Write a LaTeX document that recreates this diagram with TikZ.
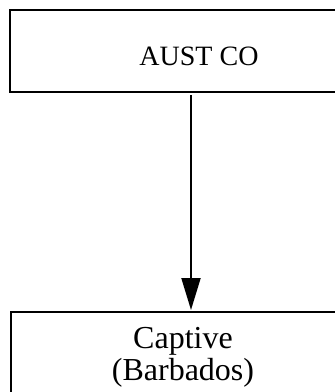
\documentclass[tikz,border=0pt]{standalone}
\usepackage{fontspec}
\setmainfont{Liberation Serif}
\usetikzlibrary{arrows.meta}
\tikzset{
  box/.style={draw=black, line width=2pt, minimum width=382pt, inner sep=0pt, rectangle},
  lbl/.style={inner sep=0pt, align=center, text=black},
  link/.style={draw=black, line width=2pt, -{Triangle[length=32pt,width=19pt]}}
}
\begin{document}
\begin{tikzpicture}[x=1pt,y=1pt]
\useasboundingbox (0,0) rectangle (335,-392);
\clip (0,0) rectangle (335,-392);
\fill[white] (0,0) rectangle (335,-392);
\node[box, minimum height=82pt] (top) at (201,-51) {};
\node[box, minimum height=100pt, anchor=north west] (bottom) at (10,-311) {};
\node[lbl, font=\fontsize{28}{28}\selectfont, anchor=base] (toptext) at (199,-65) {AUST CO};
\node[lbl, font=\fontsize{32}{31}\selectfont, anchor=base] (captive) at (183,-348) {Captive};
\node[lbl, font=\fontsize{32}{31}\selectfont, anchor=base] (barb) at (183,-380) {(Barbados)};
\coordinate (start) at (191,-95);
\draw[link] (start) -- (191,-310) coordinate (end);
\end{tikzpicture}
\end{document}
